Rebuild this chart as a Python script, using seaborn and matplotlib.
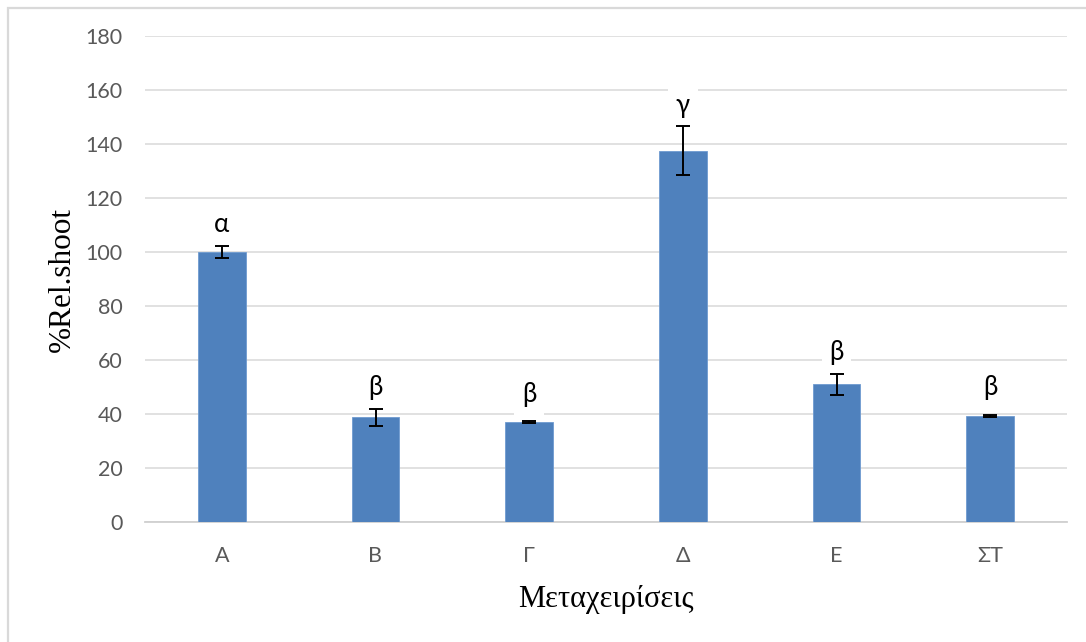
import matplotlib
matplotlib.use("Agg")
import matplotlib.pyplot as plt
from matplotlib.patches import Rectangle
import seaborn as sns
import pandas as pd

# Treatments, mean relative shoot values, standard errors and significance letters
treatments = ["Α", "Β", "Γ", "Δ", "Ε", "ΣΤ"]
rel_shoot = [100.0, 38.8, 36.9, 137.5, 51.0, 39.4]
std_err = [2.2, 3.2, 0.4, 9.1, 4.0, 0.4]
groups = ["α", "β", "β", "γ", "β", "β"]

sns.set_theme(style="white")
plt.rcParams["font.family"] = ["Lato", "DejaVu Sans"]

df = pd.DataFrame({"treatment": treatments, "value": rel_shoot})

fig = plt.figure(figsize=(10.86, 6.42), dpi=100)
ax = fig.add_axes([145 / 1086, 1 - 522 / 642, (1067 - 145) / 1086, (522 - 36) / 642])

sns.barplot(data=df, x="treatment", y="value", color="#4f81bd", saturation=1,
            width=0.31, ax=ax, zorder=3, edgecolor="#6f9bd0", linewidth=0.6)

xpos = list(range(len(treatments)))
ax.errorbar(xpos, rel_shoot, yerr=std_err, fmt="none", ecolor="black",
            elinewidth=1.4, capsize=4.7, capthick=1.4, zorder=4)

ax.set_ylim(0, 180)
ax.set_xlim(-0.5, len(treatments) - 0.5)
ax.set_yticks(range(0, 181, 20))
ax.yaxis.grid(True, color="#d9d9d9", linewidth=1.1, zorder=0)
ax.xaxis.grid(False)
for side in ["top", "right", "left"]:
    ax.spines[side].set_visible(False)
ax.spines["bottom"].set_color("#d0d0d0")
ax.spines["bottom"].set_linewidth(1.3)
ax.set_axisbelow(True)

ax.tick_params(axis="y", length=0, pad=16, labelsize=15.5, labelcolor="#595959")
ax.tick_params(axis="x", length=0, pad=17, labelsize=15.5, labelcolor="#595959")

ax.set_xlabel("Μεταχειρίσεις", family=["Liberation Serif", "DejaVu Serif"],
              fontsize=22, color="black", labelpad=14)
ax.set_ylabel("%Rel.shoot", family=["Liberation Serif", "DejaVu Serif"],
              fontsize=22.5, color="black")
ax.yaxis.set_label_coords(-0.074, 0.5)

# Significance letters above each bar, on a white box like the chart's data labels
px_per_unit = (522 - 36) / 180
for x, v, e, g in zip(xpos, rel_shoot, std_err, groups):
    offset = max(28, e * px_per_unit + 21)
    ax.annotate(g, xy=(x, v), xytext=(0, offset * 72 / 100), textcoords="offset points",
                ha="center", va="center", fontsize=18.5, color="black", zorder=5,
                bbox=dict(boxstyle="square,pad=0.3", facecolor="white", edgecolor="none"))

# Thin light frame around the chart area
fig.patches.append(Rectangle((7.5 / 1086, -0.05), 1.1, 1 - 7.5 / 642 + 0.05,
                             transform=fig.transFigure, fill=False,
                             edgecolor="#d9d9d9", linewidth=1.6, clip_on=False))

fig.savefig("out.png", dpi=100)
